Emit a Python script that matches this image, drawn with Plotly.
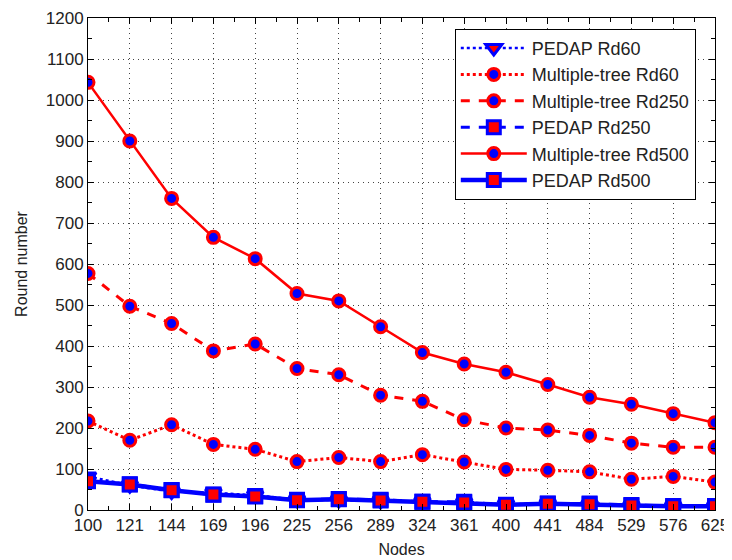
import plotly.graph_objects as go

nodes = ["100", "121", "144", "169", "196", "225", "256", "289", "324", "361", "400", "441", "484", "529", "576", "625"]
pedap_rd60 = [82, 60, 45, 42, 36, 25, 24, 22, 20, 18, 14, 15, 13, 10, 9, 8]
mt_rd60 = [217, 170, 208, 160, 148, 118, 128, 118, 135, 117, 99, 97, 93, 75, 82, 68]
mt_rd250 = [577, 497, 455, 388, 405, 345, 330, 280, 265, 220, 200, 195, 182, 163, 153, 153]
pedap_rd250 = [71, 63, 49, 37, 34, 25, 27, 25, 20, 20, 12, 16, 16, 12, 10, 10]
mt_rd500 = [1043, 900, 760, 665, 613, 528, 510, 447, 384, 356, 336, 306, 275, 258, 235, 213]
pedap_rd500 = [70, 62, 48, 38, 33, 24, 26, 23, 20, 18, 13, 15, 14, 11, 9, 9]

BLUE = "#0000ff"
RED = "#ff0000"
FONT = "Liberation Sans, Arial, sans-serif"
TXT = "#222222"

xpos = list(range(len(nodes)))

fig = go.Figure()

def add(name, y, color, dash, width, symbol, mfill, medge, msize):
    fig.add_trace(go.Scatter(
        x=xpos, y=y, name=name, mode="lines+markers", legendgroup=name,
        line=dict(color=color, dash=dash, width=width),
        marker=dict(symbol=symbol, color=mfill, size=msize,
                    line=dict(color=medge, width=3)),
    ))

add("PEDAP Rd60", pedap_rd60, BLUE, "dot", 2.5, "triangle-down", RED, BLUE, 14)
add("Multiple-tree Rd60", mt_rd60, RED, "dot", 3, "circle", BLUE, RED, 12)
add("Multiple-tree Rd250", mt_rd250, RED, "dash", 3, "circle", BLUE, RED, 12)
add("PEDAP Rd250", pedap_rd250, BLUE, "dash", 3, "square", RED, BLUE, 13)
add("Multiple-tree Rd500", mt_rd500, RED, "solid", 2.5, "circle", BLUE, RED, 12)
add("PEDAP Rd500", pedap_rd500, BLUE, "solid", 4.5, "square", RED, BLUE, 13)

axis_common = dict(
    showline=True, linecolor="black", linewidth=1, mirror="ticks",
    ticks="inside", ticklen=6, tickcolor="black",
    showgrid=True, gridcolor="#444444", griddash="1px,4px", gridwidth=1,
    zeroline=False, automargin=False,
    tickfont=dict(family=FONT, size=17, color=TXT),
)

fig.update_layout(
    width=724, height=552,
    margin=dict(l=80, r=17, t=10, b=50),
    paper_bgcolor="white", plot_bgcolor="white",
    font=dict(family=FONT, color=TXT),
    xaxis=dict(range=[0, len(nodes) - 1], tickvals=xpos, ticktext=nodes,
               title=dict(text="Nodes", font=dict(size=16, color=TXT), standoff=9),
               minor=dict(ticks="inside", ticklen=4, tickvals=[i + 0.5 for i in xpos[:-1]],
                          tickcolor="black", showgrid=False),
               **axis_common),
    yaxis=dict(range=[0, 1200], dtick=100,
               title=dict(text="Round number", font=dict(size=16, color=TXT), standoff=14),
               minor=dict(ticks="inside", ticklen=4, dtick=50, tickcolor="black", showgrid=False),
               **axis_common),
    legend=dict(x=0.585, y=0.978, xanchor="left", yanchor="top",
                bgcolor="white", bordercolor="black", borderwidth=1,
                font=dict(family=FONT, size=18, color=TXT),
                itemwidth=66, traceorder="grouped", tracegroupgap=0),
    showlegend=True,
)

fig.write_html("out.html")
